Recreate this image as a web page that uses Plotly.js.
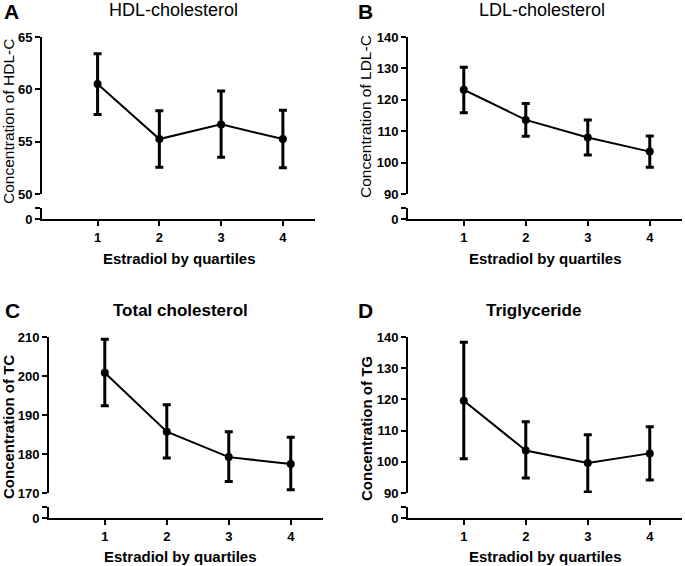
<!DOCTYPE html>
<html>
<head>
<meta charset="utf-8">
<script src="https://cdn.plot.ly/plotly-3.0.1.min.js"></script>
<style>
  html, body { margin: 0; padding: 0; background: #fff; }
  #chart { width: 685px; height: 566px; }
</style>
</head>
<body>
<div id="chart"></div>
<script>
const quartiles = [1, 2, 3, 4];

// mean values and error bar ends
const hdlMean = [60.5, 55.25, 56.65, 55.25];
const hdlUpper = [63.4, 57.95, 59.85, 58.0];
const hdlLower = [57.6, 52.55, 53.5, 52.5];

const ldlMean = [123.2, 113.6, 108.0, 103.5];
const ldlUpper = [130.4, 118.8, 113.6, 108.5];
const ldlLower = [115.9, 108.4, 102.4, 98.5];

const tcMean = [200.85, 185.7, 179.2, 177.45];
const tcUpper = [209.4, 192.6, 185.7, 184.3];
const tcLower = [192.4, 179.0, 172.95, 170.85];

const tgMean = [119.55, 103.6, 99.6, 102.7];
const tgUpper = [138.3, 112.8, 108.7, 111.2];
const tgLower = [100.95, 94.8, 90.3, 94.2];

const panelLetters = ['A', 'B', 'C', 'D'];
const panelTitles = ['HDL-cholesterol', 'LDL-cholesterol', 'Total cholesterol', 'Triglyceride'];
const yTitles = ['Concentration of HDL-C', 'Concentration of LDL-C', 'Concentration of TC', 'Concentration of TG'];
const xTitle = 'Estradiol by quartiles';
const yRanges = [[50, 65], [90, 140], [170, 210], [90, 140]];
const yTickSteps = [5, 10, 10, 10];

const W = 685;
const H = 566;
const FONT = 'Liberation Sans, Arial, sans-serif';
const px = (v) => v / W;
const py = (v) => 1 - v / H;
const bold = (v) => `<b>${v}</b>`;

// pixel boxes for each panel: x span, main y span, lower (broken) segment
const panels = [
    { x0: 42, x1: 315, top: 37, bottom: 194, brkTop: 208, zero: 219, boldTitle: false,
      letter: [11, 11], title: [173, 10], yt: [9, 122], xt: [179, 258] },
    { x0: 408, x1: 682, top: 37, bottom: 194, brkTop: 208, zero: 219, boldTitle: false,
      letter: [365, 11], title: [542, 10], yt: [365, 117], xt: [545, 258] },
    { x0: 49, x1: 323, top: 337, bottom: 493, brkTop: 507, zero: 518, boldTitle: true,
      letter: [12, 310], title: [180, 310], yt: [8, 427], xt: [180, 556] },
    { x0: 408, x1: 682, top: 337, bottom: 493, brkTop: 507, zero: 518, boldTitle: true,
      letter: [365, 310], title: [533, 310], yt: [366, 428], xt: [545, 556] },
];

const series = [
    [hdlMean, hdlUpper, hdlLower],
    [ldlMean, ldlUpper, ldlLower],
    [tcMean, tcUpper, tcLower],
    [tgMean, tgUpper, tgLower],
];

const traces = [];
const layout = {
    width: W,
    height: H,
    margin: { l: 0, r: 0, t: 0, b: 0 },
    paper_bgcolor: '#ffffff',
    plot_bgcolor: '#ffffff',
    showlegend: false,
    font: { family: FONT, color: '#000' },
    annotations: [],
};

const tickFont = { family: FONT, size: 13, color: '#000' };
const axisLine = {
    ticks: 'outside',
    ticklen: 5,
    tickwidth: 2,
    tickcolor: '#000',
    showline: true,
    linewidth: 2,
    linecolor: '#000',
    showgrid: false,
    zeroline: false,
    tickfont: tickFont,
    fixedrange: true,
};

panels.forEach((p, i) => {
    const [mean, upper, lower] = series[i];
    const xName = i === 0 ? 'x' : `x${i + 1}`;
    const yMain = i === 0 ? 'y' : `y${2 * i + 1}`;
    const yLow = `y${2 * i + 2}`;
    const xKey = xName.replace('x', 'xaxis');
    const yMainKey = yMain.replace('y', 'yaxis');
    const yLowKey = yLow.replace('y', 'yaxis');

    traces.push({
        x: quartiles,
        y: mean,
        xaxis: xName,
        yaxis: yMain,
        type: 'scatter',
        mode: 'lines+markers',
        line: { color: '#000', width: 2 },
        marker: { color: '#000', size: 8 },
        cliponaxis: false,
        error_y: {
            type: 'data',
            symmetric: false,
            array: upper.map((u, k) => u - mean[k]),
            arrayminus: lower.map((l, k) => mean[k] - l),
            color: '#000',
            thickness: 3,
            width: 4,
        },
        hoverinfo: 'x+y',
    });
    traces.push({ x: [], y: [], xaxis: xName, yaxis: yLow, type: 'scatter', hoverinfo: 'skip' });

    layout[xKey] = Object.assign({}, axisLine, {
        domain: [px(p.x0), px(p.x1)],
        range: [0.1, 4.52],
        anchor: yLow,
        tickvals: quartiles,
        ticktext: quartiles.map(bold),
    });
    const [r0, r1] = yRanges[i];
    const mainTicks = [];
    for (let v = r0; v <= r1; v += yTickSteps[i]) mainTicks.push(v);
    layout[yMainKey] = Object.assign({}, axisLine, {
        domain: [py(p.bottom), py(p.top)],
        range: [r0, r1],
        anchor: xName,
        tickvals: mainTicks,
        ticktext: mainTicks.map(bold),
    });
    layout[yLowKey] = Object.assign({}, axisLine, {
        domain: [py(p.zero), py(p.brkTop)],
        range: [0, 1],
        anchor: xName,
        tickvals: [0, 1],
        ticktext: [bold(0), ''],
    });

    const ann = (xy, text, font, extra) => Object.assign({
        xref: 'paper', yref: 'paper',
        x: px(xy[0]), y: py(xy[1]),
        xanchor: 'center', yanchor: 'middle',
        text, showarrow: false, font,
    }, extra || {});

    layout.annotations.push(ann(p.letter, panelLetters[i],
        { family: FONT, size: 21, color: '#000', weight: 'bold' }));
    layout.annotations.push(ann(p.title, panelTitles[i],
        { family: FONT, size: p.boldTitle ? 17 : 18, color: '#000', weight: p.boldTitle ? 'bold' : 'normal' }));
    layout.annotations.push(ann(p.yt, yTitles[i],
        { family: FONT, size: p.boldTitle ? 15 : 15.5, color: '#000', weight: p.boldTitle ? 'bold' : 'normal' },
        { textangle: -90 }));
    layout.annotations.push(ann(p.xt, xTitle,
        { family: FONT, size: 15, color: '#000', weight: 'bold' }));
});

Plotly.newPlot('chart', traces, layout, { displayModeBar: false, staticPlot: true });
</script>
</body>
</html>
